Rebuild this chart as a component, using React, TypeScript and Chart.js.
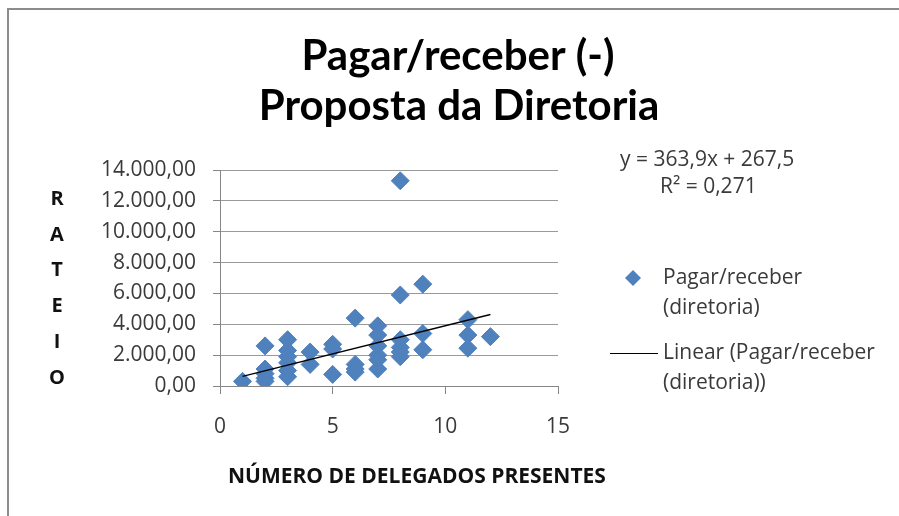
import React, { useEffect, useRef } from "react";
import { Chart, registerables } from "chart.js";

Chart.register(...registerables);

// Data
const DELEGADOS = [
  1,
  2, 2, 2, 2, 2,
  3, 3, 3, 3, 3, 3,
  4, 4,
  5, 5, 5,
  6, 6, 6, 6,
  7, 7, 7, 7, 7, 7,
  8, 8, 8, 8, 8, 8,
  9, 9, 9,
  11, 11, 11,
  12,
];
const RATEIO = [
  300,
  2600, 1100, 800, 500, 300,
  3000, 2300, 1900, 1500, 1000, 600,
  2200, 1400,
  2700, 2400, 750,
  4400, 1400, 1100, 900,
  3900, 3300, 2600, 2000, 1700, 1100,
  13300, 5900, 3000, 2500, 2200, 1900,
  6600, 3400, 2350,
  4300, 3300, 2450,
  3200,
];
const TREND_SLOPE = 363.9;
const TREND_INTERCEPT = 267.5;
const EQUATION_TEXT = "y = 363,9x + 267,5";
const R2_TEXT = "R\u00B2 = 0,271";
const TITLE_LINES = ["Pagar/receber (-)", "Proposta da Diretoria"];
const X_TITLE = "NÚMERO DE DELEGADOS PRESENTES";
const Y_TITLE_LETTERS = ["R", "A", "T", "E", "I", "O"];
const SERIES_LABEL = ["Pagar/receber", "(diretoria)"];
const TREND_LABEL = ["Linear (Pagar/receber", "(diretoria))"];
const X_TICKS = [0, 5, 10, 15];
const Y_MAX = 14000;

const BLUE = "#4F81BD";
const TEXT = "#3a3a3a";
const GRID = "#9a9a9a";
const AXIS = "#868686";

function fmtBR(v: number): string {
  const fixed = Math.abs(v).toFixed(2);
  const [intPart, dec] = fixed.split(".");
  const withDots = intPart.replace(/\B(?=(\d{3})+(?!\d))/g, ".");
  return (v < 0 ? "-" : "") + withDots + "," + dec;
}

const decorPlugin = {
  id: "decor",
  beforeDraw(chart: any) {
    const ctx = chart.ctx;
    ctx.save();
    ctx.fillStyle = "#ffffff";
    ctx.fillRect(0, 0, chart.width, chart.height);
    ctx.fillStyle = "#8c8c8c";
    ctx.fillRect(7, 8, chart.width - 7, 2);
    ctx.fillRect(7, 8, 2, chart.height - 8);
    ctx.restore();
  },
  afterDraw(chart: any) {
    const ctx = chart.ctx;
    ctx.save();
    // Title
    ctx.fillStyle = "#000";
    ctx.textAlign = "center";
    ctx.textBaseline = "alphabetic";
    ctx.font = "bold 42px Lato";
    ctx.fillText(TITLE_LINES[0], 458, 70);
    ctx.fillText(TITLE_LINES[1], 459, 120);

    // X axis title
    ctx.font = "bold 21px 'Open Sans'";
    ctx.textAlign = "left";
    ctx.fillStyle = "#111";
    ctx.fillText(X_TITLE, 228, 483);

    // Y axis title (stacked letters)
    ctx.font = "bold 20px 'Open Sans'";
    ctx.textAlign = "center";
    ctx.textBaseline = "middle";
    Y_TITLE_LETTERS.forEach((ch, i) => {
      ctx.fillText(ch, 57, 199 + i * 35.8);
    });

    // Equation
    ctx.fillStyle = TEXT;
    ctx.font = "21px 'Open Sans'";
    ctx.textAlign = "left";
    ctx.fillText(EQUATION_TEXT, 620, 160);
    ctx.fillText(R2_TEXT, 660, 187);

    // Legend
    const ds0 = chart.data.datasets[0];
    const ds1 = chart.data.datasets[1];
    ctx.fillStyle = ds0.backgroundColor;
    ctx.beginPath();
    const r = 8;
    ctx.moveTo(633 - r, 278);
    ctx.lineTo(633, 278 - r);
    ctx.lineTo(633 + r, 278);
    ctx.lineTo(633, 278 + r);
    ctx.closePath();
    ctx.fill();
    ctx.strokeStyle = ds1.borderColor;
    ctx.lineWidth = 1;
    ctx.beginPath();
    ctx.moveTo(610, 353.5);
    ctx.lineTo(658, 353.5);
    ctx.stroke();
    ctx.fillStyle = TEXT;
    ctx.font = "21px 'Open Sans'";
    ctx.fillText(SERIES_LABEL[0], 663, 278);
    ctx.fillText(SERIES_LABEL[1], 663, 308);
    ctx.fillText(TREND_LABEL[0], 663, 353);
    ctx.fillText(TREND_LABEL[1], 663, 383);
    ctx.restore();
  },
};

export default function App() {
  const ref = useRef<HTMLCanvasElement | null>(null);
  useEffect(() => {
    if (!ref.current) return;
    const points = DELEGADOS.map((x, i) => ({ x, y: RATEIO[i] }));
    const xMin = Math.min(...DELEGADOS);
    const xMax = Math.max(...DELEGADOS);
    const trend = [xMin, xMax].map((x) => ({ x, y: TREND_SLOPE * x + TREND_INTERCEPT }));
    const chart = new Chart(ref.current, {
      type: "scatter",
      data: {
        datasets: [
          {
            label: SERIES_LABEL.join(" "),
            data: points,
            backgroundColor: BLUE,
            borderColor: BLUE,
            borderWidth: 1,
            pointStyle: "rectRot",
            pointRadius: 9,
            order: 2,
          },
          {
            type: "line",
            label: TREND_LABEL.join(" "),
            data: trend,
            borderColor: "#000000",
            borderWidth: 1.3,
            pointRadius: 0,
            fill: false,
            order: 1,
          } as any,
        ],
      },
      options: {
        animation: false,
        responsive: false,
        layout: { padding: { left: 0, top: 170, right: 341, bottom: 0 } },
        plugins: {
          legend: { display: false },
          tooltip: { enabled: false },
          title: { display: false },
        },
        scales: {
          x: {
            type: "linear",
            min: 0,
            max: 15,
            afterFit: (s: any) => {
              s.height = 130;
            },
            afterBuildTicks: (s: any) => {
              s.ticks = X_TICKS.map((v) => ({ value: v }));
            },
            ticks: {
              color: TEXT,
              font: { family: "'Open Sans'", size: 21 },
              padding: 20,
              maxRotation: 0,
            },
            grid: {
              drawOnChartArea: false,
              drawTicks: true,
              tickLength: 8,
              tickColor: AXIS,
            },
            border: { color: AXIS, width: 1 },
          },
          y: {
            type: "linear",
            min: 0,
            max: Y_MAX,
            afterFit: (s: any) => {
              s.width = 220;
            },
            ticks: {
              stepSize: 2000,
              color: TEXT,
              font: { family: "'Open Sans'", size: 21 },
              padding: 17,
              callback: (v: any) => fmtBR(Number(v)),
            },
            grid: {
              color: GRID,
              tickColor: AXIS,
              tickLength: 7,
              drawTicks: true,
            },
            border: { color: AXIS, width: 1 },
          },
        },
      },
      plugins: [decorPlugin],
    });
    return () => chart.destroy();
  }, []);
  return (
    <div style={{ position: "fixed", left: 0, top: 0, width: 899, height: 516, background: "#fff" }}>
      <canvas ref={ref} width={899} height={516} style={{ display: "block", width: 899, height: 516 }} />
    </div>
  );
}
